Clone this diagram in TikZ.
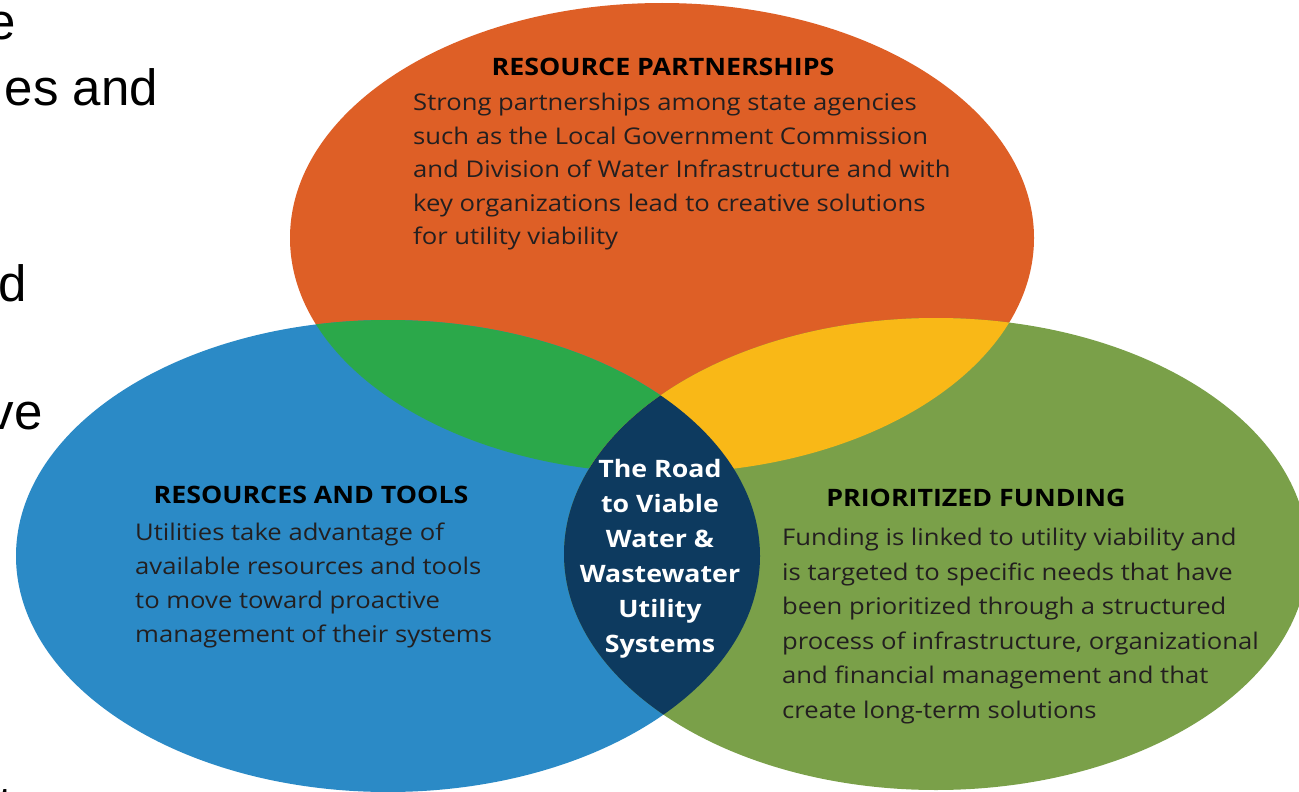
\documentclass[tikz,border=0pt]{standalone}
\usepackage{fontspec}
\setmainfont{Open Sans}[FakeStretch=1.115]
\newfontfamily\slidefont{Liberation Sans}

\definecolor{rpOrange}{HTML}{DE5F26}
\definecolor{rtBlue}{HTML}{2B8AC6}
\definecolor{pfGreen}{HTML}{7AA049}
\definecolor{lensGreen}{HTML}{2BA84A}
\definecolor{lensYellow}{HTML}{F9B817}
\definecolor{coreNavy}{HTML}{0D3A5F}
\definecolor{bodyText}{HTML}{231F20}

% the three circles of the diagram
\def\ellRP{(662,238) ellipse [x radius=372, y radius=235]}
\def\ellRT{(388,556) ellipse [x radius=372, y radius=236]}
\def\ellPF{(936,554) ellipse [x radius=372, y radius=236]}

\begin{document}
\begin{tikzpicture}
  [x=1pt,y=-1pt,
   head/.style={font=\bfseries\fontsize{24}{28}\selectfont,text=black,inner sep=0pt,anchor=base},
   body/.style={font=\fontsize{23}{34}\selectfont,text=bodyText,align=left,inner sep=0pt,anchor=north west},
   core/.style={font=\bfseries\fontsize{24}{35}\selectfont,text=white,align=center,inner sep=0pt,anchor=north},
   frag/.style={font=\slidefont\fontsize{51}{55}\selectfont,text=black,inner sep=0pt,anchor=base east}]
  \useasboundingbox (0,0) rectangle (1299,792);
  \clip (0,0) rectangle (1299,792);
  \fill[white] (0,0) rectangle (1299,792);

  % circles and overlaps
  \fill[rpOrange] \ellRP;
  \fill[rtBlue] \ellRT;
  \fill[pfGreen] \ellPF;
  \begin{scope}
    \clip \ellRP;
    \fill[lensGreen] \ellRT;
    \fill[lensYellow] \ellPF;
  \end{scope}
  \begin{scope}
    \clip \ellRT;
    \fill[coreNavy] \ellPF;
  \end{scope}

  % slide text cut off at the left
  \node[frag] (F_1) at (16,40) {e};
  \node[frag] (F_2) at (158,106) {es and};
  \node[frag] (F_3) at (27,301) {d};
  \node[frag] (F_4) at (43,429) {ve};
  \node[frag] (F_5) at (13,822) {t};

  \node[head] (RP_head) at (663,75) {RESOURCE PARTNERSHIPS};
  \node[body,font=\fontsize{23}{33.5}\selectfont] (RP_body) at (413,93)
    {Strong partnerships among state agencies\\such as the Local Government Commission\\and Division of Water Infrastructure and with\\key organizations lead to creative solutions\\for utility viability};

  \node[head] (RT_head) at (311,503) {RESOURCES AND TOOLS};
  \node[body] (RT_body) at (135,523)
    {Utilities take advantage of\\available resources and tools\\to move toward proactive\\management of their systems};

  \node[head] (PF_head) at (976,506) {PRIORITIZED FUNDING};
  \node[body,font=\fontsize{23}{34.5}\selectfont] (PF_body) at (782,528)
    {Funding is linked to utility viability and\\is targeted to specific needs that have\\been prioritized through a structured\\process of infrastructure, organizational\\and financial management and that\\create long-term solutions};

  \node[core] (core) at (660,459)
    {The Road\\to Viable\\Water \&\\Wastewater\\Utility\\Systems};

\end{tikzpicture}
\end{document}
